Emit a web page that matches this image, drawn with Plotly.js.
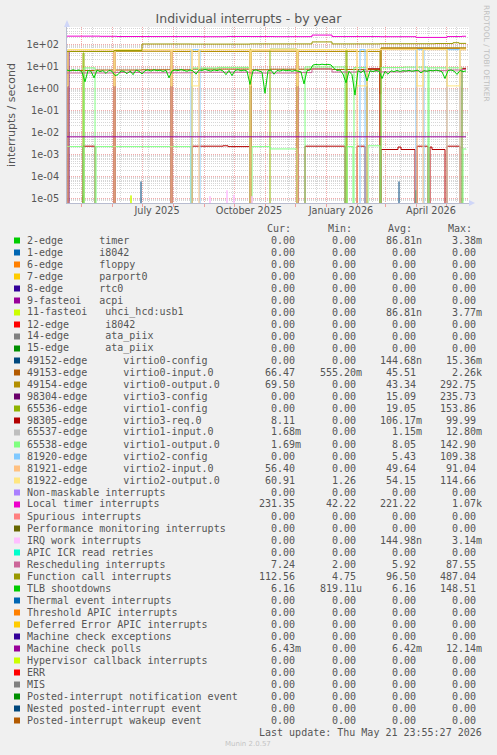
<!DOCTYPE html>
<html><head><meta charset="utf-8">
<script src="https://cdn.plot.ly/plotly-3.0.1.min.js"></script>
<style>html,body{margin:0;padding:0;background:#F0F0F0;}#chart{width:497px;height:755px;}</style>
</head><body><div id="chart"></div>
<script>
// ---------------- DATA ----------------
const xRange = ['2025-04-17', '2026-05-24'];
const xLabelDates = ['2025-07-16', '2025-10-16', '2026-01-16', '2026-04-16'];
const xLabelText = ['July 2025', 'October 2025', 'January 2026', 'April 2026'];
const yTickVals = [1e-5, 1e-4, 1e-3, 1e-2, 1e-1, 1, 10, 100];
const yTickText = ['1e-05', '1e-04', '1e-03', '1e-02', '1e-01', '1e+00', '1e+01', '1e+02'];

// 2-edge timer (spikes)
const timerDates = ['2025-04-17', '2025-05-02', '2025-05-03', '2025-05-04', '2026-03-31', '2026-04-01', '2026-04-02', '2026-05-21'];
const timerVals = [0, 0, 1.4e-5, 0, 0, 2.4e-5, 0, 0];
// 11-fasteoi uhci_hcd:usb1 (spike)
const usbDates = ['2025-04-17', '2025-06-19', '2025-06-20', '2025-06-21', '2026-05-21'];
const usbVals = [0, 0, 1.4e-5, 0, 0];
// 49152-edge virtio0-config (spikes)
const v0cfgDates = ['2025-04-17', '2025-06-29', '2025-06-30', '2025-07-01', '2026-03-14', '2026-03-15', '2026-03-16', '2026-05-21'];
const v0cfgVals = [0, 0, 6e-5, 0, 0, 6e-5, 0, 0];
// 49153-edge virtio0-input.0
const v0inDates = ['2025-04-17', '2025-05-15', '2025-07-01', '2025-08-20', '2025-10-17', '2025-10-18', '2025-11-06', '2025-12-18', '2026-01-07', '2026-02-24', '2026-02-25', '2026-05-21'];
const v0inVals = [6.5, 6.8, 7.0, 7.5, 0.56, 7.0, 7.4, 7.6, 7.2, 0.56, 66, 66.5];
// 49154-edge virtio0-output.0
const v0outDates = ['2025-04-17', '2025-04-18', '2025-06-03', '2025-06-04', '2025-07-30', '2025-07-31', '2025-10-17', '2025-10-18', '2025-12-03', '2025-12-04', '2026-02-24', '2026-02-25', '2026-05-21'];
const v0outVals = [0, 47, 0, 48, 0, 47, 0, 48, 0, 47, 0, 69, 69.5];
// 98304-edge virtio3-config (reboot spikes)
const v3cfgDates = ['2025-04-17', '2025-04-18', '2025-04-19', '2025-06-03', '2025-06-04', '2025-07-30', '2025-07-31', '2025-10-17', '2025-10-18', '2025-12-03', '2025-12-04', '2026-05-21'];
const v3cfgVals = [0, 47, 0, 47, 0, 47, 0, 47, 0, 47, 0, 0];
// 65536-edge virtio1-config
const v1cfgDates = ['2025-04-17', '2025-05-03', '2025-05-04', '2025-10-17', '2025-10-18', '2025-11-06', '2025-12-03', '2026-01-21', '2026-01-22', '2026-05-21'];
const v1cfgVals = [0, 40, 0, 60, 0, 60, 0, 60, 0, 0];
// 98305-edge virtio3-req.0
const v3reqDates = ['2025-04-17', '2025-05-03', '2025-05-15', '2025-08-20', '2025-09-20', '2025-09-25', '2025-10-17', '2025-12-11', '2026-01-20', '2026-02-01', '2026-02-09', '2026-02-11', '2026-02-24', '2026-02-25', '2026-03-14', '2026-03-17', '2026-03-31', '2026-04-02', '2026-04-13', '2026-04-15', '2026-04-17', '2026-04-30', '2026-05-02', '2026-05-15', '2026-05-17', '2026-05-21'];
const v3reqVals = [0, 0.0024, 0, 0.0024, 0.0025, 0.0023, 0, 0.0024, 0, 0.0024, 0, 7.8, 0, 0.0017, 0.0022, 0.0017, 0, 0.0024, 0, 0.0022, 0.0017, 0, 0.0024, 0, 8.1, 8.11];
// 65538-edge virtio1-output.0
const v1outDates = ['2025-04-17', '2025-05-03', '2025-05-04', '2025-05-15', '2025-05-16', '2025-08-19', '2025-08-20', '2025-09-15', '2025-10-17', '2025-10-19', '2025-11-06', '2025-12-03', '2025-12-11', '2026-01-20', '2026-01-22', '2026-01-28', '2026-01-29', '2026-02-11', '2026-02-12', '2026-02-24', '2026-02-25', '2026-03-20', '2026-04-13', '2026-04-14', '2026-05-17', '2026-05-18', '2026-05-21'];
const v1outVals = [0.0023, 0, 8.5, 0, 0.0023, 0, 8.4, 9.0, 0, 0.0023, 0.0018, 0, 9.4, 0, 0.0023, 0, 8.8, 0, 0.0025, 0, 8.8, 9.2, 0, 8.6, 0, 0.0018, 0.0017];
// 81920-edge virtio2-config
const v2cfgDates = ['2025-04-17', '2025-08-19', '2025-08-28', '2026-02-04', '2026-02-09', '2026-04-01', '2026-04-09', '2026-05-02', '2026-05-15', '2026-05-21'];
const v2cfgVals = [0, 57, 0, 57, 0, 57, 0, 57, 0, 0];
// 81921-edge virtio2-input.0
const v2inDates = ['2025-04-17', '2025-04-18', '2025-06-03', '2025-06-04', '2025-07-30', '2025-07-31', '2025-08-20', '2025-08-27', '2025-10-17', '2025-10-18', '2025-12-03', '2025-12-04', '2026-02-01', '2026-02-11', '2026-04-02', '2026-04-08', '2026-05-02', '2026-05-15', '2026-05-21'];
const v2inVals = [0, 55, 0, 55, 0, 56, 0, 56, 0, 55, 0, 56, 0, 57, 0, 57, 0, 56, 56.4];
// 81922-edge virtio2-output.0
const v2outDates = ['2025-04-17', '2025-04-18', '2025-06-03', '2025-06-04', '2025-07-30', '2025-07-31', '2025-08-20', '2025-08-27', '2025-10-17', '2025-10-18', '2025-12-03', '2025-12-04', '2026-02-01', '2026-02-11', '2026-04-02', '2026-04-08', '2026-05-02', '2026-05-15', '2026-05-21'];
const v2outVals = [1.3, 58, 1.3, 58, 1.3, 59, 1.3, 58, 1.3, 57, 1.3, 58, 1.3, 59, 1.3, 58, 1.3, 60, 60.9];
// Local timer interrupts
const locDates = ['2025-04-17', '2025-05-20', '2025-06-06', '2025-07-10', '2025-08-28', '2025-09-24', '2025-10-17', '2025-11-10', '2025-12-18', '2026-01-07', '2026-02-24', '2026-04-01', '2026-05-02', '2026-05-17', '2026-05-21'];
const locVals = [234, 230, 225, 224, 221, 226, 224, 222, 262, 224, 221, 205, 224, 231, 231.35];
// IRQ work interrupts (spikes)
const irqDates = ['2025-04-17', '2025-09-06', '2025-09-07', '2025-09-08', '2025-09-23', '2025-09-24', '2025-09-25', '2025-09-30', '2025-10-01', '2025-10-02', '2025-10-18', '2025-10-19', '2025-10-20', '2026-05-21'];
const irqVals = [0, 0, 1.3e-5, 0, 0, 2.4e-5, 0, 0, 1.5e-5, 0, 0, 1.3e-5, 0, 0];
// Rescheduling interrupts
const reschDates = ['2025-04-17', '2025-06-03', '2025-07-01', '2025-08-20', '2025-10-17', '2025-12-03', '2025-12-18', '2026-01-07', '2026-02-01', '2026-02-24', '2026-03-20', '2026-04-15', '2026-05-02', '2026-05-17', '2026-05-21'];
const reschVals = [5.0, 5.3, 5.1, 5.4, 5.0, 5.2, 7.6, 5.5, 6.0, 5.6, 6.1, 6.4, 6.8, 7.2, 7.24];
// Function call interrupts
const fcDates = ['2025-04-17', '2025-06-03', '2025-07-01', '2025-08-20', '2025-10-17', '2025-12-18', '2026-01-07', '2026-02-24', '2026-04-20', '2026-05-08', '2026-05-14', '2026-05-21'];
const fcVals = [47, 52, 103, 102, 104, 128, 104, 106, 108, 118, 110, 112.56];
// TLB shootdowns (one value every 3 days from 2025-04-17)
const tlbStart = '2025-04-17';
const tlbStepDays = 3;
const tlbVals = [6.8, 6.2, 7.0, 6.4, 6.9, 5.5, 2.0, 6.5, 6.0, 3.0,
  6.7, 5.8, 6.4, 4.8, 6.6, 6.0, 3.8, 4.2, 6.2, 5.9,
  4.6, 6.3, 4.2, 6.8, 6.0, 4.5, 6.4, 6.9, 6.1, 7.0,
  6.3, 6.7, 5.9, 6.6, 3.0, 6.2, 6.8, 6.4, 7.1, 6.5,
  6.0, 6.8, 6.3, 4.4, 6.9, 6.5, 7.2, 6.6, 6.1, 6.9,
  6.4, 7.0, 6.2, 4.2, 6.6, 3.8, 6.5, 7.0, 6.3, 6.8,
  6.1, 1.5, 6.4, 6.9, 6.2, 5.5, 0.6, 6.3, 6.8, 4.4,
  6.5, 6.1, 6.9, 6.3, 6.7, 6.0, 6.5, 6.2, 5.6, 1.6,
  6.4, 6.8, 11.5, 12.2, 11.8, 12.5, 11.9, 12.3, 11.6, 8.0,
  6.5, 6.8, 4.5, 1.8, 6.0, 4.2, 0.5, 6.4, 5.2, 6.6,
  2.2, 6.3, 5.8, 6.5, 6.1, 2.8, 6.0, 4.4, 6.3, 5.8,
  6.5, 5.9, 6.4, 6.1, 6.6, 6.0, 6.3, 6.7, 5.0, 6.4,
  6.0, 6.6, 6.2, 6.8, 6.3, 5.7, 2.8, 6.4, 6.9, 6.1,
  4.3, 6.5, 5.8, 6.2];
// Machine check polls
const mcpDates = ['2025-04-17', '2026-05-21'];
const mcpVals = [0.0064, 0.00643];

// Legend table
const legendLabels = ['2-edge      timer', '1-edge      i8042', '6-edge      floppy', '7-edge      parport0', '8-edge      rtc0', '9-fasteoi   acpi', '11-fasteoi   uhci_hcd:usb1', '12-edge      i8042', '14-edge      ata_piix', '15-edge      ata_piix', '49152-edge      virtio0-config', '49153-edge      virtio0-input.0', '49154-edge      virtio0-output.0', '98304-edge      virtio3-config', '65536-edge      virtio1-config', '98305-edge      virtio3-req.0', '65537-edge      virtio1-input.0', '65538-edge      virtio1-output.0', '81920-edge      virtio2-config', '81921-edge      virtio2-input.0', '81922-edge      virtio2-output.0', 'Non-maskable interrupts', 'Local timer interrupts', 'Spurious interrupts', 'Performance monitoring interrupts', 'IRQ work interrupts', 'APIC ICR read retries', 'Rescheduling interrupts', 'Function call interrupts', 'TLB shootdowns', 'Thermal event interrupts', 'Threshold APIC interrupts', 'Deferred Error APIC interrupts', 'Machine check exceptions', 'Machine check polls', 'Hypervisor callback interrupts', 'ERR', 'MIS', 'Posted-interrupt notification event', 'Nested posted-interrupt event', 'Posted-interrupt wakeup event'];
const legendColors = ['#00CC00', '#0066B3', '#FF8000', '#FFCC00', '#330099', '#990099', '#CCFF00', '#FF0000', '#808080', '#008F00', '#00487D', '#B35A00', '#B38F00', '#6B006B', '#8FB300', '#B30000', '#BEBEBE', '#80FF80', '#80C9FF', '#FFC080', '#FFE680', '#AA80FF', '#EE00CC', '#FF8080', '#666600', '#FFBFFF', '#00FFCC', '#CC6699', '#999900', '#00CC00', '#0066B3', '#FF8000', '#FFCC00', '#330099', '#990099', '#CCFF00', '#FF0000', '#808080', '#008F00', '#00487D', '#B35A00'];
const curVals = ['0.00', '0.00', '0.00', '0.00', '0.00', '0.00', '0.00', '0.00', '0.00', '0.00', '0.00', '66.47', '69.50', '0.00', '0.00', '8.11', '1.68m', '1.69m', '0.00', '56.40', '60.91', '0.00', '231.35', '0.00', '0.00', '0.00', '0.00', '7.24', '112.56', '6.16', '0.00', '0.00', '0.00', '0.00', '6.43m', '0.00', '0.00', '0.00', '0.00', '0.00', '0.00'];
const minVals = ['0.00', '0.00', '0.00', '0.00', '0.00', '0.00', '0.00', '0.00', '0.00', '0.00', '0.00', '555.20m', '0.00', '0.00', '0.00', '0.00', '0.00', '0.00', '0.00', '0.00', '1.26', '0.00', '42.22', '0.00', '0.00', '0.00', '0.00', '2.00', '4.75', '819.11u', '0.00', '0.00', '0.00', '0.00', '0.00', '0.00', '0.00', '0.00', '0.00', '0.00', '0.00'];
const avgVals = ['86.81n', '0.00', '0.00', '0.00', '0.00', '0.00', '86.81n', '0.00', '0.00', '0.00', '144.68n', '45.51', '43.34', '15.09', '19.05', '106.17m', '1.15m', '8.05', '5.43', '49.64', '54.15', '0.00', '221.22', '0.00', '0.00', '144.98n', '0.00', '5.92', '96.50', '6.16', '0.00', '0.00', '0.00', '0.00', '6.42m', '0.00', '0.00', '0.00', '0.00', '0.00', '0.00'];
const maxVals = ['3.38m', '0.00', '0.00', '0.00', '0.00', '0.00', '3.77m', '0.00', '0.00', '0.00', '15.36m', '2.26k', '292.75', '235.73', '153.86', '99.99', '12.80m', '142.90', '109.38', '91.04', '114.66', '0.00', '1.07k', '0.00', '0.00', '3.14m', '0.00', '87.55', '487.04', '148.51', '0.00', '0.00', '0.00', '0.00', '12.14m', '0.00', '0.00', '0.00', '0.00', '0.00', '0.00'];
const colHeaders = ['Cur:', 'Min:', 'Avg:', 'Max:'];

// ---------------- RENDER ----------------
const FONT = 'DejaVu Sans', MONO = 'DejaVu Sans Mono', TXT = '#555555';
const L = 67, R = 469, T = 27, B = 203, W = R - L, H = B - T;
const pxX = x => (x - L) / W, pxY = y => (B - y) / H;
const pos = v => v > 0 ? v : 1e-9;
const DAY = 86400000;

function tr(dates, vals, color, shape) {
  return {type: 'scatter', mode: 'lines', x: dates, y: vals.map(pos),
    line: {color: color, width: 1, shape: shape || 'hv'}, hoverinfo: 'skip', showlegend: false};
}

const data = [
  tr(timerDates, timerVals, '#00CC00', 'linear'),
  tr(usbDates, usbVals, '#CCFF00', 'linear'),
  Object.assign(tr(v0cfgDates, v0cfgVals, '#00487D', 'linear'), {opacity: 0.6}),
  tr(v0inDates, v0inVals, '#B35A00'),
  tr(v0outDates, v0outVals, '#B38F00'),
  tr(v3cfgDates, v3cfgVals, '#6B006B'),
  tr(v1cfgDates, v1cfgVals, '#8FB300'),
  tr(v3reqDates, v3reqVals, '#B30000'),
  tr(v1outDates, v1outVals, '#80FF80'),
  tr(v2cfgDates, v2cfgVals, '#80C9FF'),
  tr(v2inDates, v2inVals, '#FFC080'),
  tr(v2outDates, v2outVals, '#FFE680'),
  tr(locDates, locVals, '#EE00CC'),
  tr(irqDates, irqVals, '#FFBFFF', 'linear'),
  tr(reschDates, reschVals, '#CC6699'),
  tr(fcDates, fcVals, '#999900'),
  {type: 'scatter', mode: 'lines', x0: tlbStart, dx: tlbStepDays * DAY, y: tlbVals.map(pos),
    line: {color: '#00CC00', width: 1}, hoverinfo: 'skip', showlegend: false},
  tr(mcpDates, mcpVals, '#990099'),
  {type: 'scatter', mode: 'lines', x: [], y: [], xaxis: 'x2', yaxis: 'y', showlegend: false, hoverinfo: 'skip'}
];

// grid tick positions
const xMinor = [];
for (let t = Date.parse('2025-05-12'); t < Date.parse(xRange[1]); t += 28 * DAY) xMinor.push(new Date(t).toISOString().slice(0, 10));
const yMinor = [];
for (let e = -6; e <= 2; e++) for (let m = 2; m <= 9; m++) yMinor.push(m * Math.pow(10, e));

const annotations = [];
const shapes = [];
// legend header
const headerX = [265.7, 326.7, 386.7, 446.7];
colHeaders.forEach((h, i) => annotations.push({xref: 'paper', yref: 'paper', x: pxX(headerX[i]), y: pxY(228.5), xanchor: 'left', yanchor: 'middle', text: h, showarrow: false, borderpad: 0, font: {family: MONO, size: 10, color: TXT}}));
const colRight = [301.7, 362.7, 422.7, 482.7];
const CH = 6.0;
const cols = [curVals, minVals, avgVals, maxVals];
legendLabels.forEach((lab, i) => {
  const yc = 240 + 12 * i;
  shapes.push({type: 'rect', xref: 'paper', yref: 'paper', x0: pxX(14), x1: pxX(20), y0: pxY(yc - 2.5), y1: pxY(yc + 3.5), fillcolor: legendColors[i], line: {width: 0}, layer: 'above'});
  annotations.push({xref: 'paper', yref: 'paper', x: pxX(26), y: pxY(yc), xanchor: 'left', yanchor: 'middle', text: lab.replace(/ /g, '\u00a0'), showarrow: false, borderpad: 0, font: {family: MONO, size: 10, color: TXT}});
  cols.forEach((arr, c) => {
    const s = arr[i];
    const hasUnit = /[a-z]$/i.test(s);
    annotations.push({xref: 'paper', yref: 'paper', x: pxX(colRight[c] - (hasUnit ? 0 : CH)), y: pxY(yc), xanchor: 'right', yanchor: 'middle', text: s, showarrow: false, borderpad: 0, font: {family: MONO, size: 10, color: TXT}});
  });
});
annotations.push({xref: 'paper', yref: 'paper', x: pxX(482.7), y: pxY(732), xanchor: 'right', yanchor: 'middle', text: 'Last update: Thu May 21 23:55:27 2026'.replace(/ /g, '\u00a0'), showarrow: false, borderpad: 0, font: {family: MONO, size: 10, color: TXT}});
annotations.push({xref: 'paper', yref: 'paper', x: pxX(248), y: pxY(744.5), xanchor: 'center', yanchor: 'middle', text: 'Munin 2.0.57', showarrow: false, borderpad: 0, font: {family: FONT, size: 7, color: '#C4C4C4'}});
annotations.push({xref: 'paper', yref: 'paper', x: pxX(487), y: pxY(54), xanchor: 'center', yanchor: 'middle', textangle: 90, text: 'RRDTOOL / TOBI OETIKER', showarrow: false, borderpad: 0, font: {family: FONT, size: 7.5, color: '#C0C0C0'}});
annotations.push({xref: 'paper', yref: 'paper', x: pxX(11), y: pxY(115), xanchor: 'center', yanchor: 'middle', textangle: -90, text: 'interrupts / second', showarrow: false, borderpad: 0, font: {family: FONT, size: 11, color: TXT}});

// axis arrows
const arrowCol = '#CFD6F8';
shapes.push({type: 'path', xref: 'paper', yref: 'paper', layer: 'above', path: `M ${pxX(64)} ${pxY(27)} L ${pxX(67)} ${pxY(20)} L ${pxX(70)} ${pxY(27)} Z`, fillcolor: arrowCol, line: {width: 0}});
shapes.push({type: 'path', xref: 'paper', yref: 'paper', layer: 'above', path: `M ${pxX(469)} ${pxY(200)} L ${pxX(475)} ${pxY(203)} L ${pxX(469)} ${pxY(206)} Z`, fillcolor: arrowCol, line: {width: 0}});

const MAJ = '#F2AAAA', MIN = '#D6D6D6', DOT = '1px,1px';
const layout = {
  width: 497, height: 755,
  paper_bgcolor: '#F0F0F0', plot_bgcolor: '#FFFFFF',
  margin: {l: L, r: 497 - R, t: T, b: 755 - B, pad: 0},
  showlegend: false,
  title: {text: 'Individual interrupts - by year', font: {family: FONT, size: 12.5, color: TXT}, x: 0.5, xref: 'container', xanchor: 'center', y: 1 - 19 / 755, yref: 'container', yanchor: 'middle'},
  xaxis: {type: 'date', range: xRange, tick0: '2025-05-01', dtick: 'M1', showticklabels: false, ticks: 'outside', ticklen: 3, tickcolor: '#F0A0A0', tickwidth: 1,
    showgrid: true, gridcolor: MAJ, griddash: DOT, gridwidth: 1, showline: true, linecolor: '#B8BCD0', linewidth: 1, zeroline: false, fixedrange: true,
    minor: {tickmode: 'array', tickvals: xMinor, showgrid: true, gridcolor: MIN, griddash: DOT, gridwidth: 1, ticks: ''}},
  xaxis2: {type: 'date', range: xRange, overlaying: 'x', anchor: 'y', side: 'bottom', tickmode: 'array', tickvals: xLabelDates, ticktext: xLabelText,
    showgrid: false, ticks: '', showline: false, zeroline: false, tickfont: {family: FONT, size: 9.7, color: TXT}, fixedrange: true},
  yaxis: {type: 'log', range: [-5.195, 2.784], tickmode: 'array', tickvals: yTickVals, ticktext: yTickText, ticks: '', ticklabelstandoff: 5,
    tickfont: {family: FONT, size: 9.7, color: TXT}, showgrid: true, gridcolor: MAJ, griddash: DOT, gridwidth: 1, showline: true, linecolor: '#B8BCD0', linewidth: 1, zeroline: false, fixedrange: true,
    minor: {tickmode: 'array', tickvals: yMinor, showgrid: true, gridcolor: MIN, griddash: DOT, gridwidth: 1, ticks: ''}},
  annotations: annotations,
  shapes: shapes
};
Plotly.newPlot('chart', data, layout, {staticPlot: true, displayModeBar: false});
</script></body></html>
